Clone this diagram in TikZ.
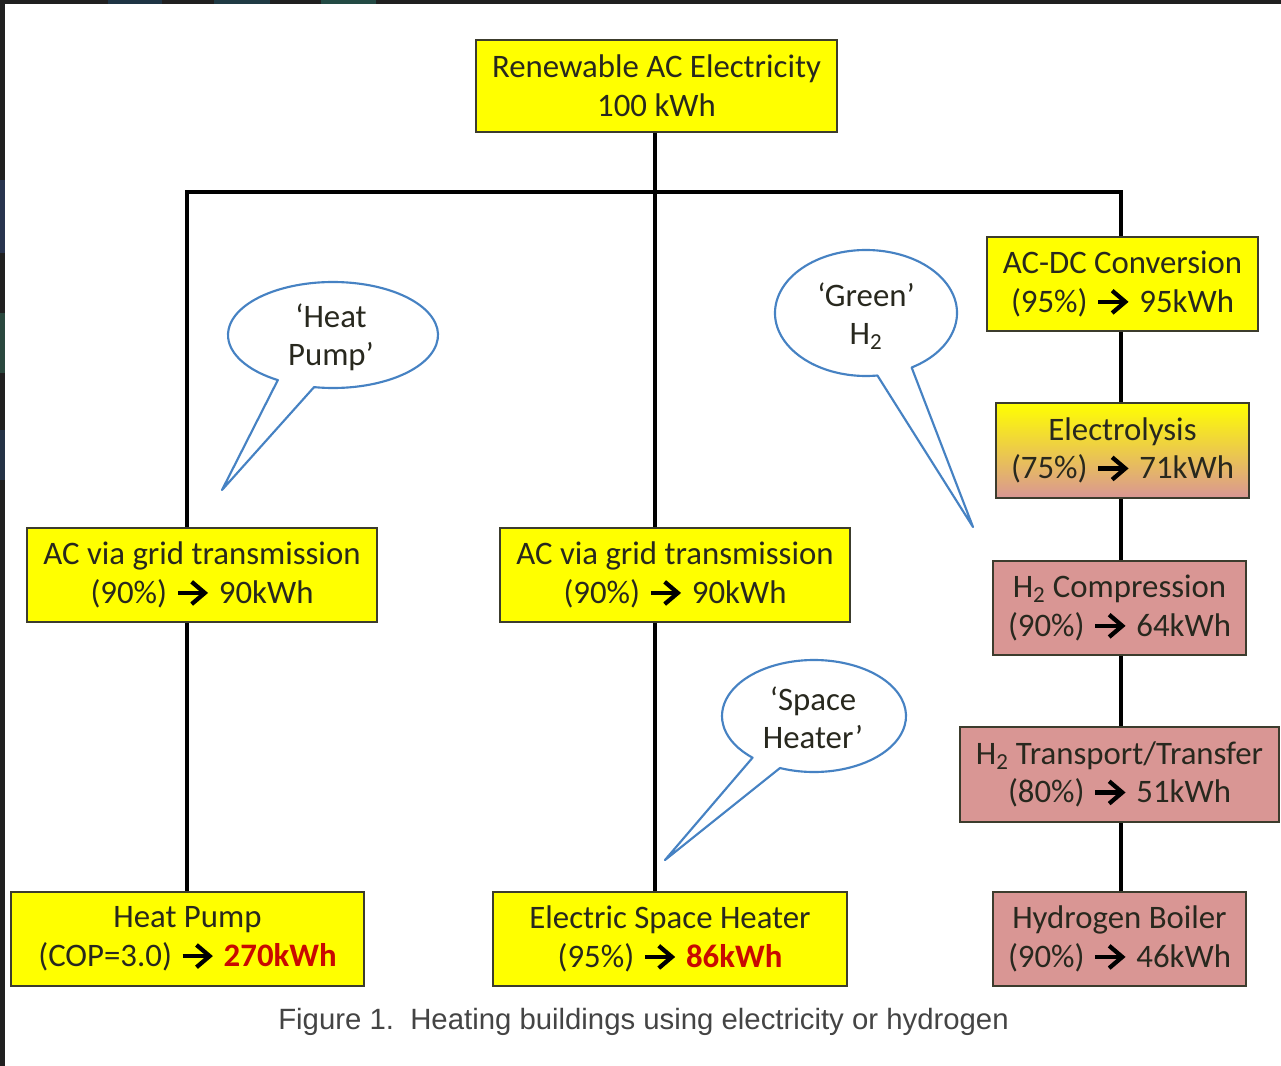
\documentclass[tikz,border=0pt]{standalone}
\usepackage{fontspec}
\setmainfont{Carlito}
\newfontfamily\capfont{Liberation Sans}
\definecolor{hy}{RGB}{255,255,0}
\definecolor{pk}{RGB}{217,150,148}
\definecolor{boxline}{RGB}{60,60,45}
\definecolor{txt}{RGB}{40,40,30}
\definecolor{redtxt}{RGB}{200,10,0}
\definecolor{bubblue}{RGB}{70,130,195}
\definecolor{frame}{RGB}{32,32,32}
\newcommand{\arr}{\hspace{0.04em}\tikz[baseline=0pt]{\draw[line width=0.125em, black] (0,0.32em) -- (0.74em,0.32em);
  \draw[line width=0.13em, black, line join=miter, line cap=butt] (0.42em,0.66em) -- (0.82em,0.32em) -- (0.42em,-0.02em);}\hspace{0.14em}}
\begin{document}
\begin{tikzpicture}[x=0.75pt,y=-0.75pt,
  sz/.style 2 args={minimum width=#1*0.75pt, minimum height=#2*0.75pt},
  box/.style={draw=boxline, line width=1.1pt, fill=hy, text=txt, align=center,
    font=\fontsize{24.6}{29}\selectfont, inner sep=0pt},
  pbox/.style={box, fill=pk},
  conn/.style={line width=3.6pt, draw=black, line join=miter},
  bub/.style={draw=bubblue, line width=1.6pt, fill=white, line join=round},
  btxt/.style={text=txt, align=center, font=\fontsize{24.6}{28.5}\selectfont, inner sep=0pt}]
\useasboundingbox (0,0) rectangle (1281,1066);
\fill[white] (0,0) rectangle (1281,1066);
% screenshot frame
\fill[frame] (0,0) rectangle (1281,4);
\fill[frame] (0,0) rectangle (5,1066);
\fill[color={rgb,255:red,30;green,52;blue,68}] (108,0) rectangle (162,4);
\fill[color={rgb,255:red,31;green,58;blue,68}] (214,0) rectangle (270,4);
\fill[color={rgb,255:red,35;green,74;blue,68}] (321,0) rectangle (376,4);
\fill[color={rgb,255:red,40;green,52;blue,78}] (0,180) rectangle (5,253);
\fill[color={rgb,255:red,42;green,72;blue,62}] (0,313) rectangle (5,373);
\fill[color={rgb,255:red,36;green,50;blue,70}] (0,430) rectangle (5,480);

% junction coordinates
\coordinate (jL) at (187,192);
\coordinate (jM) at (655,192);
\coordinate (jR) at (1121,192);

% boxes
\node[box, sz={361}{92}] (top) at (656.5,86) {Renewable AC Electricity\\100 kWh};
\node[box, sz={350}{94}] (acL) at (202,575) {AC via grid transmission\\(90\%) \arr{} 90kWh};
\node[box, sz={350}{94}] (acM) at (675,575) {AC via grid transmission\\(90\%) \arr{} 90kWh};
\node[box, sz={353}{94}] (hp) at (187.5,939) {Heat Pump\\(COP=3.0) \arr{} \textcolor{redtxt}{\bfseries 270kWh}};
\node[box, sz={354}{94}] (esh) at (670,939) {Electric Space Heater\\(95\%) \arr{} \textcolor{redtxt}{\bfseries 86kWh}};
\node[box, sz={271}{94}] (acdc) at (1122.5,284) {AC-DC Conversion\\(95\%) \arr{} 95kWh};
\node[box, sz={253}{95}, shading=axis, top color=hy, middle color={rgb,255:red,246;green,222;blue,70}, bottom color=pk] (elec) at (1122.5,450.5) {Electrolysis\\(75\%) \arr{} 71kWh};
\node[pbox, sz={253}{94}] (comp) at (1119.5,608) {H\textsubscript{2} Compression\\(90\%) \arr{} 64kWh};
\node[pbox, sz={319}{95}] (trans) at (1119.5,774.5) {H\textsubscript{2} Transport/Transfer\\(80\%) \arr{} 51kWh};
\node[pbox, sz={253}{94}] (boil) at (1119.5,939) {Hydrogen Boiler\\(90\%) \arr{} 46kWh};

% connectors
\draw[conn] (top.south -| jM) -- (jM);
\draw[conn] (acL.north -| jL) -- (jL) -- (jR) -- (acdc.north -| jR);
\draw[conn] (jM) -- (acM.north -| jM);
\draw[conn] (acL.south -| jL) -- (hp.north -| jL);
\draw[conn] (acM.south -| jM) -- (esh.north -| jM);
\draw[conn] (acdc.south -| jR) -- (elec.north -| jR);
\draw[conn] (elec.south -| jR) -- (comp.north -| jR);
\draw[conn] (comp.south -| jR) -- (trans.north -| jR);
\draw[conn] (trans.south -| jR) -- (boil.north -| jR);

% redraw box borders over the line ends
\foreach \n in {top,acL,acM,hp,esh,acdc,elec,comp,trans,boil}
  \draw[boxline, line width=1.1pt] (\n.north west) rectangle (\n.south east);

% speech bubbles
\coordinate (hpc) at (333,335);
\coordinate (hptip) at (222,490);
\draw[bub] ([shift={(259.6:78.75pt and 39.75pt)}]hpc)
  arc[start angle=259.6, end angle=598.3, x radius=78.75pt, y radius=39.75pt]
  -- (hptip) -- cycle;
\node[btxt] (hpt) at (331,337) {‘Heat\\Pump’};

\coordinate (grc) at (866,313);
\coordinate (grtip) at (973,527);
\draw[bub] ([shift={(300.1:68.25pt and 47.25pt)}]grc)
  arc[start angle=300.1, end angle=637.2, x radius=68.25pt, y radius=47.25pt]
  -- (grtip) -- cycle;
\node[btxt] (grt) at (866,316) {‘Green’\\H\textsubscript{2}};

\coordinate (shc) at (814,716);
\coordinate (shtip) at (665,860);
\draw[bub] ([shift={(248.3:69pt and 42pt)}]shc)
  arc[start angle=248.3, end angle=588.1, x radius=69pt, y radius=42pt]
  -- (shtip) -- cycle;
\node[btxt] (sht) at (813,718) {‘Space\\Heater’};

% caption
\node[text={rgb,255:red,68;green,68;blue,68}, font=\capfont\fontsize{22}{26}\selectfont, inner sep=0pt] (cap) at (643.5,1022) {Figure 1.\ \ Heating buildings using electricity or hydrogen};
\end{tikzpicture}
\end{document}
